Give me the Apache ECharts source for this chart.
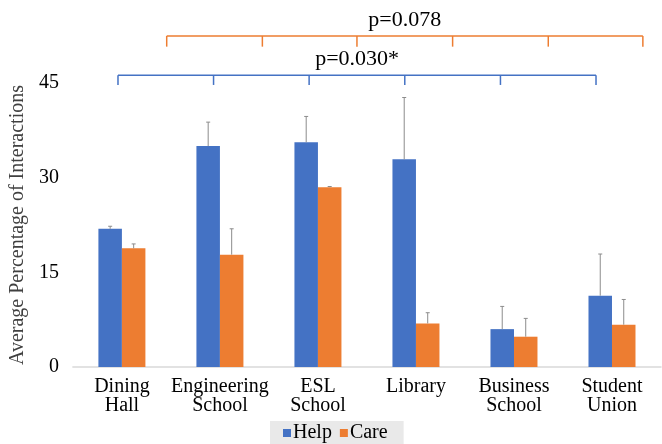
<!DOCTYPE html>
<html>
<head>
<meta charset="utf-8">
<script src="https://cdn.jsdelivr.net/npm/echarts@6/dist/echarts.min.js"></script>
<style>
html,body{margin:0;padding:0;background:#fff;}
#chart{width:662px;height:444px;}
</style>
</head>
<body>
<div id="chart"></div>
<script>
const categories = ['Dining\nHall', 'Engineering\nSchool', 'ESL\nSchool', 'Library', 'Business\nSchool', 'Student\nUnion'];
const helpValues = [21.9, 35.0, 35.6, 32.9, 6.0, 11.3];
const careValues = [18.8, 17.8, 28.5, 6.9, 4.8, 6.7];
const helpErrTop = [22.3, 38.8, 39.7, 42.7, 9.6, 17.9];
const careErrTop = [19.5, 21.9, 28.6, 8.6, 7.7, 10.7];
const yTicks = [0, 15, 30, 45];
const careBracketPos = [0.457, 1.433, 2.398, 3.374, 4.35, 5.315];
const helpBracketPos = [-0.04, 0.935, 1.91, 2.886, 3.862, 4.837];
const careBracketLabel = 'p=0.078';
const helpBracketLabel = 'p=0.030*';

const FONT = '"Liberation Serif", "Times New Roman", serif';
const BLUE = '#4472C4';
const ORANGE = '#ED7D31';
const BAR_W = 23.5;

const chart = echarts.init(document.getElementById('chart'), null, {renderer: 'canvas'});

function errRender(values, tops, offset) {
  return function (params, api) {
    const i = api.value(0);
    const base = api.coord([i, values[i]]);
    const top = api.coord([i, tops[i]]);
    const x = base[0] + offset;
    const st = {stroke: '#8c8c8c', lineWidth: 1};
    return {
      type: 'group',
      children: [
        {type: 'line', shape: {x1: x, y1: base[1], x2: x, y2: top[1]}, style: st},
        {type: 'line', shape: {x1: x - 2, y1: top[1], x2: x + 2, y2: top[1]}, style: st}
      ]
    };
  };
}

function bracketRender(positions, lineVal, tickVal, color, label, labelPos, labelVal) {
  return function (params, api) {
    const c0 = api.coord([0, lineVal]);
    const bw = api.size([1, 0])[0];
    const yLine = c0[1];
    const yTick = api.coord([0, tickVal])[1];
    const xs = positions.map(p => c0[0] + p * bw);
    const st = {stroke: color, lineWidth: 1.5};
    const children = [
      {type: 'line', shape: {x1: xs[0], y1: yLine, x2: xs[xs.length - 1], y2: yLine}, style: st}
    ];
    xs.forEach(x => children.push({type: 'line', shape: {x1: x, y1: yLine, x2: x, y2: yTick}, style: st}));
    children.push({
      type: 'text',
      style: {
        text: label,
        x: c0[0] + labelPos * bw,
        y: api.coord([0, labelVal])[1],
        font: '22px ' + FONT,
        fill: '#000',
        align: 'center',
        verticalAlign: 'middle'
      }
    });
    return {type: 'group', children: children};
  };
}

const idx = categories.map((c, i) => [i]);

chart.setOption({
  animation: false,
  backgroundColor: '#fff',
  textStyle: {fontFamily: FONT},
  grid: {left: 71, right: 1, top: 83, bottom: 77, containLabel: false},
  legend: {
    data: ['Help', 'Care'],
    left: 270,
    top: 421,
    backgroundColor: '#e9e9e9',
    padding: [2, 16, 1, 13],
    itemWidth: 8,
    itemHeight: 8,
    itemGap: 8,
    icon: 'rect',
    textStyle: {fontFamily: FONT, fontSize: 20, color: '#000', padding: [0, 0, 0, -3]}
  },
  xAxis: {
    type: 'category',
    data: categories,
    axisLine: {show: true, lineStyle: {color: '#d9d9d9', width: 1.5}},
    axisTick: {show: false},
    axisLabel: {fontFamily: FONT, fontSize: 20, color: '#000', lineHeight: 19, margin: 10, interval: 0}
  },
  yAxis: {
    type: 'value',
    min: yTicks[0],
    max: yTicks[yTicks.length - 1],
    interval: yTicks[1] - yTicks[0],
    splitLine: {show: false},
    axisLine: {show: false},
    axisTick: {show: false},
    axisLabel: {fontFamily: FONT, fontSize: 20, color: '#000', margin: 14},
    name: 'Average Percentage of Interactions',
    nameLocation: 'middle',
    nameGap: 38,
    nameTextStyle: {fontFamily: FONT, fontSize: 20, color: '#404040'}
  },
  series: [
    {name: 'Help', type: 'bar', data: helpValues, barWidth: BAR_W, barGap: '0%',
     itemStyle: {color: BLUE}},
    {name: 'Care', type: 'bar', data: careValues, barWidth: BAR_W, barGap: '0%',
     itemStyle: {color: ORANGE}},
    {type: 'custom', data: idx, renderItem: errRender(helpValues, helpErrTop, -BAR_W / 2), z: 5, silent: true},
    {type: 'custom', data: idx, renderItem: errRender(careValues, careErrTop, BAR_W / 2), z: 5, silent: true},
    {type: 'custom', data: [[0]], clip: false, silent: true,
     renderItem: bracketRender(careBracketPos, 52.45, 50.76, ORANGE, careBracketLabel, 2.886, 54.9)},
    {type: 'custom', data: [[0]], clip: false, silent: true,
     renderItem: bracketRender(helpBracketPos, 46.22, 44.69, BLUE, helpBracketLabel, 2.40, 48.8)}
  ]
});
</script>
</body>
</html>
